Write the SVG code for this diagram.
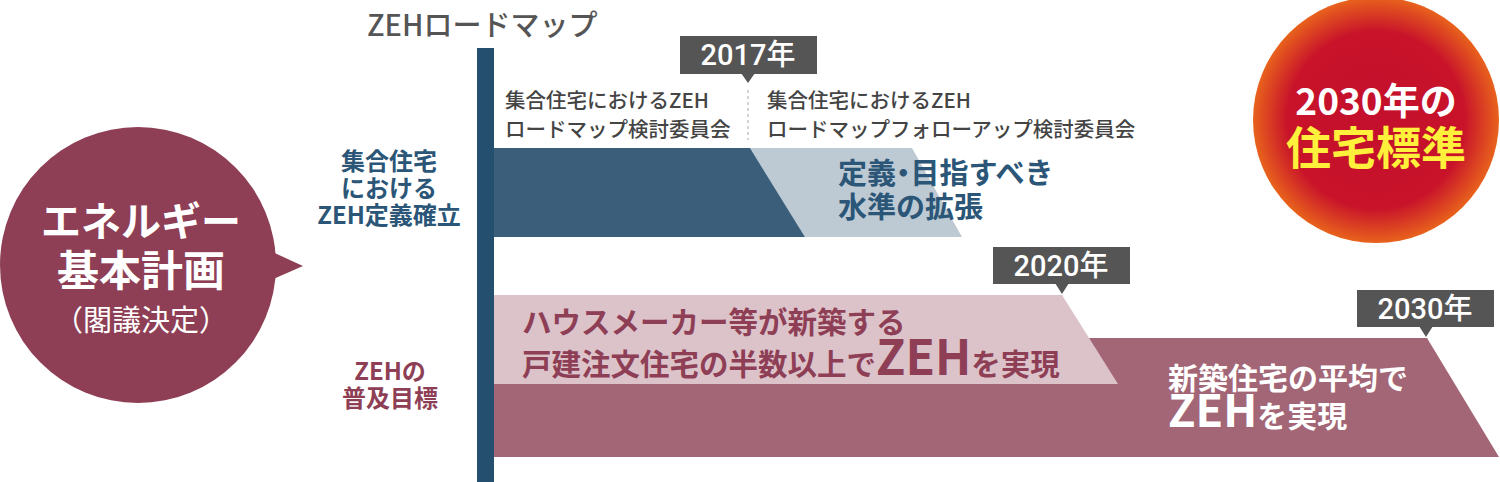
<svg xmlns="http://www.w3.org/2000/svg" width="1500" height="482" viewBox="0 0 1500 482">
<defs>
<radialGradient id="redGlow" cx="0.5" cy="0.5" r="0.5">
<stop offset="0" stop-color="#c40f2d"/>
<stop offset="0.72" stop-color="#c8132a"/>
<stop offset="1" stop-color="#e8621c"/>
</radialGradient>
<style>
text{font-family:"Noto Sans CJK JP","Noto Sans",sans-serif;}
.b{font-weight:700;}
.tag{fill:#555555;}
.tagt{fill:#ffffff;font-size:29px;font-weight:500;text-anchor:middle;font-family:Roboto,"Noto Sans CJK JP",sans-serif;}
.small{fill:#444444;font-size:20.5px;font-weight:500;}
.blue{fill:#2b5677;}
.maroon{fill:#8e3f56;}
.mid{text-anchor:middle;}
.palt{font-feature-settings:"palt";}
</style>
</defs>
<rect width="1500" height="482" fill="#ffffff"/>

<g id="title">
<text x="367" y="36" font-size="29" fill="#555555" font-weight="500">ZEHロードマップ</text>
</g>

<g id="energy-plan">
<circle cx="138" cy="265" r="138" fill="#8e3f56"/>
<polygon points="255,244 303,266 255,287" fill="#8e3f56"/>
<text x="141" y="236" font-size="40" fill="#ffffff" class="b mid">エネルギー</text>
<text x="141" y="286" font-size="42" fill="#ffffff" class="b mid">基本計画</text>
<text x="141" y="331" font-size="29" fill="#ffffff" class="mid">（閣議決定）</text>
</g>

<g id="timeline-axis">
<rect x="477" y="48" width="17" height="434" fill="#244f6e"/>
</g>

<g id="row-labels">
<text class="b blue mid" font-size="24" x="389" y="170">集合住宅</text>
<text class="b blue mid" font-size="24" x="389" y="197">における</text>
<text class="b blue mid" font-size="24" x="389" y="224">ZEH定義確立</text>
<text class="b maroon mid" font-size="24" x="390" y="380">ZEHの</text>
<text class="b maroon mid" font-size="24" x="390" y="407">普及目標</text>
</g>

<g id="band-definition">
<polygon points="750,148 912,148 962,237 805,237" fill="#bdc9d3"/>
<polygon points="494,148 750,148 805,237 494,237" fill="#3b5f7b"/>
<text class="b blue" font-size="29" x="838" y="184">定義<tspan class="palt">・</tspan>目指すべき</text>
<text class="b blue" font-size="29" x="838" y="218">水準の拡張</text>
</g>

<g id="committees">
<line x1="748" y1="90" x2="748" y2="140" stroke="#aaaaaa" stroke-width="1" stroke-dasharray="3,3"/>
<text class="small" x="505" y="108">集合住宅におけるZEH</text>
<text class="small" x="505" y="137">ロードマップ検討委員会</text>
<text class="small" x="767" y="108">集合住宅におけるZEH</text>
<text class="small" x="767" y="137">ロードマップフォローアップ検討委員会</text>
</g>

<g id="band-spread">
<polygon points="494,338 1427,338 1499,457 494,457" fill="#a36676"/>
<polygon points="494,295 1062,295 1118,384 494,384" fill="#dcc3ca"/>
<text class="b maroon" font-size="29.5" x="522" y="333">ハウスメーカー等が新築する</text>
<text class="b maroon" font-size="29.5" x="522" y="375">戸建注文住宅の半数以上で<tspan font-size="48">ZEH</tspan>を実現</text>
<text class="b" fill="#ffffff" font-size="30" x="1168" y="389">新築住宅の平均で</text>
<text class="b" fill="#ffffff" font-size="30" x="1168" y="427"><tspan font-size="45">ZEH</tspan>を実現</text>
</g>

<g id="tag-2017">
<rect class="tag" x="680" y="36" width="137" height="38"/>
<polygon class="tag" points="741,73 755,73 748,83"/>
<text class="tagt" x="748" y="65">2017年</text>
</g>
<g id="tag-2020">
<rect class="tag" x="993" y="247" width="137" height="37"/>
<polygon class="tag" points="1055,283 1069,283 1062,294"/>
<text class="tagt" x="1061" y="276">2020年</text>
</g>
<g id="tag-2030">
<rect class="tag" x="1357" y="290" width="137" height="37"/>
<polygon class="tag" points="1419,326 1433,326 1426,337"/>
<text class="tagt" x="1425" y="319">2030年</text>
</g>

<g id="standard-2030">
<circle cx="1376" cy="120" r="123" fill="url(#redGlow)"/>
<text class="b mid" fill="#ffffff" font-size="37" x="1376" y="115">2030年の</text>
<text class="b mid" fill="#fff03c" font-size="45" x="1376" y="165">住宅標準</text>
</g>
</svg>
